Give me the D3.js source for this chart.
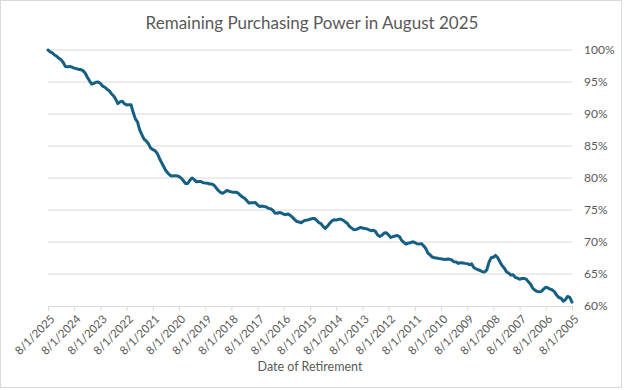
<!DOCTYPE html>
<html>
<head>
<meta charset="utf-8">
<script src="https://cdn.jsdelivr.net/npm/d3@7"></script>
<style>
  html, body { margin: 0; padding: 0; background: #fff; }
  svg { display: block; }
  text { font-family: Lato, "Open Sans", sans-serif; fill: #595959; }
</style>
</head>
<body>
<svg id="chart" width="624" height="390"></svg>
<script>
// Chart text
const chartTitle = "Remaining Purchasing Power in August 2025";
const xAxisTitle = "Date of Retirement";

// First (leftmost) month of the series and tick labels (left to right)
const startMonth = "2025-08-01";
const xTickLabels = ["8/1/2025","8/1/2024","8/1/2023","8/1/2022","8/1/2021","8/1/2020","8/1/2019",
  "8/1/2018","8/1/2017","8/1/2016","8/1/2015","8/1/2014","8/1/2013","8/1/2012","8/1/2011",
  "8/1/2010","8/1/2009","8/1/2008","8/1/2007","8/1/2006","8/1/2005"];
const yTickValues = [60, 65, 70, 75, 80, 85, 90, 95, 100];

// Remaining purchasing power (%), monthly, from Aug 2025 back to Aug 2005
const values2025 = [100.00, 99.71, 99.56, 99.22, 99.02, 98.71, 98.49, 98.05];            // Aug..Jan
const values2024 = [97.42, 97.38, 97.43, 97.32, 97.17, 97.09, 96.97, 96.94, 96.78, 96.41, 95.79, 95.20]; // Dec..Jan
const values2023 = [94.68, 94.78, 94.97, 95.00, 94.77, 94.36, 94.18, 93.87, 93.64, 93.17, 92.86, 92.34];
const values2022 = [91.61, 91.89, 91.99, 91.61, 91.42, 91.45, 91.46, 90.22, 89.24, 88.74, 87.57, 86.78];
const values2021 = [86.06, 85.79, 85.37, 84.67, 84.44, 84.27, 83.86, 83.09, 82.43, 81.76, 81.18, 80.74];
const values2020 = [80.40, 80.32, 80.37, 80.34, 80.23, 79.98, 79.57, 79.14, 79.14, 79.67, 80.00, 79.75];
const values2019 = [79.40, 79.45, 79.46, 79.28, 79.22, 79.19, 79.06, 79.05, 78.88, 78.46, 78.05, 77.75];
const values2018 = [77.60, 77.82, 78.06, 77.92, 77.83, 77.79, 77.78, 77.66, 77.33, 77.03, 76.85, 76.51];
const values2017 = [76.09, 76.14, 76.14, 76.18, 75.78, 75.56, 75.61, 75.54, 75.48, 75.25, 75.19, 74.96];
const values2016 = [74.52, 74.50, 74.61, 74.52, 74.34, 74.27, 74.39, 74.15, 73.85, 73.50, 73.19, 73.13];
const values2015 = [73.01, 73.26, 73.41, 73.45, 73.56, 73.66, 73.66, 73.40, 73.03, 72.88, 72.45, 72.14];
const values2014 = [72.48, 72.89, 73.29, 73.47, 73.42, 73.54, 73.57, 73.43, 73.18, 72.94, 72.47, 72.20];
const values2013 = [71.93, 71.94, 72.09, 72.27, 72.19, 72.10, 72.07, 71.90, 71.77, 71.85, 71.66, 71.08];
const values2012 = [70.87, 71.06, 71.40, 71.43, 71.11, 70.72, 70.83, 70.94, 71.02, 70.81, 70.27, 69.96];
const values2011 = [69.66, 69.83, 69.89, 70.03, 69.93, 69.73, 69.67, 69.75, 69.42, 68.98, 68.31, 67.98];
const values2010 = [67.65, 67.54, 67.51, 67.42, 67.39, 67.29, 67.28, 67.34, 67.29, 67.18, 66.90, 66.88];
const values2009 = [66.66, 66.77, 66.73, 66.66, 66.62, 66.47, 66.58, 66.01, 65.82, 65.66, 65.55, 65.35];
const values2008 = [65.30, 65.65, 66.85, 67.53, 67.62, 67.90, 67.54, 66.87, 66.31, 65.91, 65.34, 65.15];
const values2007 = [64.83, 64.87, 64.49, 64.35, 64.18, 64.29, 64.31, 64.19, 63.80, 63.39, 62.81, 62.48];
const values2006 = [62.29, 62.20, 62.29, 62.63, 62.94, 62.81, 62.63, 62.50, 62.20, 61.67, 61.33, 61.21];
const values2005 = [60.75, 60.99, 61.49, 61.36, 60.62];                                  // Dec..Aug

const allValues = [].concat(values2025, values2024, values2023, values2022, values2021, values2020,
  values2019, values2018, values2017, values2016, values2015, values2014, values2013, values2012,
  values2011, values2010, values2009, values2008, values2007, values2006, values2005);

const parseDate = d3.timeParse("%Y-%m-%d");
const parseTick = d3.timeParse("%m/%d/%Y");
const start = parseDate(startMonth);
const data = allValues.map((v, i) => ({ date: d3.timeMonth.offset(start, -i), value: v }));
const tickDates = xTickLabels.map(parseTick);

const svg = d3.select("#chart");
const plot = { left: 48, right: 572, top: 50, bottom: 306 };

// Outer chart border
svg.append("rect")
  .attr("x", 0.5).attr("y", 0.5).attr("width", 621).attr("height", 387)
  .attr("fill", "#fff").attr("stroke", "#d9d9d9");

const x = d3.scaleTime()
  .domain([tickDates[0], tickDates[tickDates.length - 1]])
  .range([plot.left, plot.right]);
const y = d3.scaleLinear().domain([60, 100]).range([plot.bottom, plot.top]);

// Gridlines
svg.append("g").selectAll("line")
  .data(yTickValues.filter(v => v !== 60))
  .join("line")
  .attr("x1", plot.left).attr("x2", plot.right)
  .attr("y1", d => y(d)).attr("y2", d => y(d))
  .attr("stroke", "#d9d9d9").attr("stroke-width", 1);

// Y axis (right side labels)
const yAxis = d3.axisRight(y).tickValues(yTickValues).tickSize(0).tickPadding(0)
  .tickFormat(d => d + "%");
const yg = svg.append("g").attr("transform", `translate(${plot.right + 12},0)`).call(yAxis);
yg.select(".domain").remove();
yg.selectAll("text").attr("font-size", 12).attr("fill", "#595959")
  .style("font-family", "Lato, 'Open Sans', sans-serif");

// X axis
const xAxis = d3.axisBottom(x).tickValues(tickDates).tickSize(5)
  .tickFormat((d, i) => xTickLabels[i]);
const xg = svg.append("g").attr("transform", `translate(0,${plot.bottom})`).call(xAxis);
xg.select(".domain").attr("stroke", "#d9d9d9").attr("d", `M${plot.left},0.5H${plot.right}`);
xg.selectAll(".tick line").attr("stroke", "#d9d9d9");
xg.selectAll(".tick text")
  .attr("font-size", 11.5).attr("fill", "#595959")
  .style("font-family", "Lato, 'Open Sans', sans-serif")
  .attr("text-anchor", "end")
  .attr("y", 0).attr("dy", "0.35em")
  .attr("transform", "translate(4,11) rotate(-45)");

// Line
const line = d3.line().x(d => x(d.date)).y(d => y(d.value)).curve(d3.curveLinear);
svg.append("path").datum(data)
  .attr("d", line)
  .attr("fill", "none")
  .attr("stroke", "#156082")
  .attr("stroke-width", 3)
  .attr("stroke-linejoin", "round")
  .attr("stroke-linecap", "round");

// Title
svg.append("text")
  .attr("x", 312).attr("y", 29)
  .attr("text-anchor", "middle")
  .attr("font-size", 17)
  .attr("fill", "#595959")
  .text(chartTitle);

// X axis title
svg.append("text")
  .attr("x", 310).attr("y", 371)
  .attr("text-anchor", "middle")
  .attr("font-size", 12.5)
  .attr("fill", "#595959")
  .text(xAxisTitle);
</script>
</body>
</html>
